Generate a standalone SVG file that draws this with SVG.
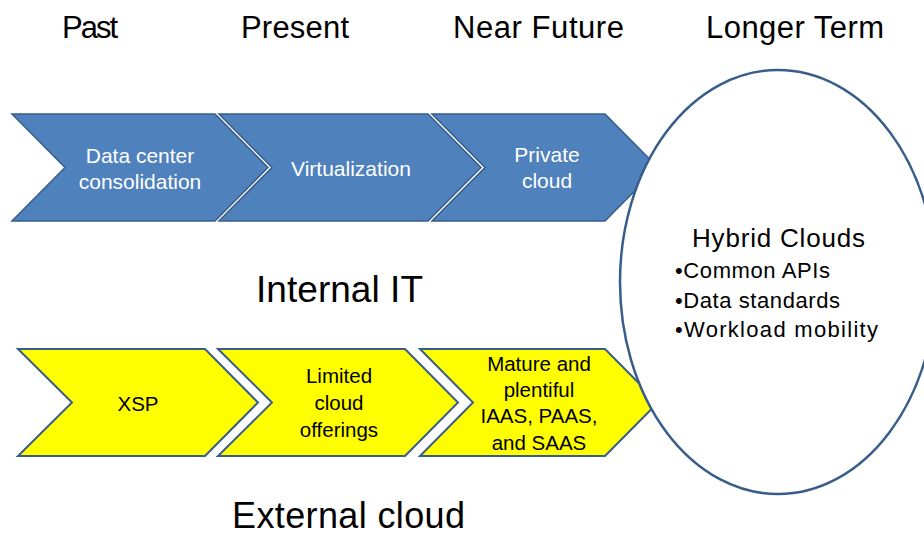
<svg xmlns="http://www.w3.org/2000/svg" width="924" height="537" viewBox="0 0 924 537">
<style>
text{font-family:"Liberation Sans",Arial,sans-serif;}
.hdr{font-size:31px;fill:#000;}
.big{font-size:37px;fill:#000;}
.blue{fill:#4f81bd;stroke:#385d8a;stroke-width:1.5;stroke-linejoin:miter;}
.yel{fill:#ffff00;stroke:#385d8a;stroke-width:2;stroke-linejoin:miter;}
.wt{font-size:21px;fill:#fff;text-anchor:middle;}
.bt{font-size:20.5px;fill:#000;text-anchor:middle;}
.ell{fill:#fff;stroke:#385d8a;stroke-width:2.5;}
.ht{font-size:26px;fill:#000;}
.bl{font-size:22px;fill:#000;}
</style>
<rect width="924" height="537" fill="#fff"/>
<g id="headers">
<text class="hdr" x="62" y="38" textLength="56">Past</text>
<text class="hdr" x="241" y="38" textLength="108">Present</text>
<text class="hdr" x="453" y="38" textLength="171">Near Future</text>
<text class="hdr" x="706" y="38" textLength="178">Longer Term</text>
</g>
<g id="internal-1">
<polygon class="blue" points="12,114 215,114 268,167.5 215,221 12,221 65,167.5"/>
<text class="wt" x="140" y="163">Data center</text>
<text class="wt" x="140" y="189">consolidation</text>
</g>
<g id="internal-2">
<polygon class="blue" points="219,114 428,114 481,167.5 428,221 219,221 272,167.5"/>
<text class="wt" x="351" y="176">Virtualization</text>
</g>
<g id="internal-3">
<polygon class="blue" points="432,114 605,114 658,167.5 605,221 432,221 485,167.5"/>
<text class="wt" x="547" y="162">Private</text>
<text class="wt" x="547" y="188">cloud</text>
</g>
<g id="label-internal">
<text class="big" x="256" y="302" textLength="167">Internal IT</text>
</g>
<g id="external-1">
<polygon class="yel" points="18,349 205,349 258,402.5 205,456 18,456 72,402.5"/>
<text class="bt" x="138" y="411">XSP</text>
</g>
<g id="external-2">
<polygon class="yel" points="218,349 405,349 458,402.5 405,456 218,456 272,402.5"/>
<text class="bt" x="339" y="383">Limited</text>
<text class="bt" x="339" y="410">cloud</text>
<text class="bt" x="339" y="437">offerings</text>
</g>
<g id="external-3">
<polygon class="yel" points="420,349 605,349 658,402.5 605,456 420,456 473,402.5"/>
<text class="bt" x="539" y="371">Mature and</text>
<text class="bt" x="539" y="397">plentiful</text>
<text class="bt" x="539" y="423">IAAS, PAAS,</text>
<text class="bt" x="539" y="450">and SAAS</text>
</g>
<g id="label-external">
<text class="big" x="232" y="528" style="font-size:36px" textLength="233">External cloud</text>
</g>
<g id="hybrid-clouds">
<ellipse class="ell" cx="778" cy="282" rx="158" ry="212"/>
<text class="ht" x="692" y="247" textLength="173">Hybrid Clouds</text>
<text class="bl" x="675" y="278" textLength="155">•Common APIs</text>
<text class="bl" x="675" y="308" textLength="165">•Data standards</text>
<text class="bl" x="675" y="337" textLength="203">•Workload mobility</text>
</g>
<g id="connectors"/>
</svg>
